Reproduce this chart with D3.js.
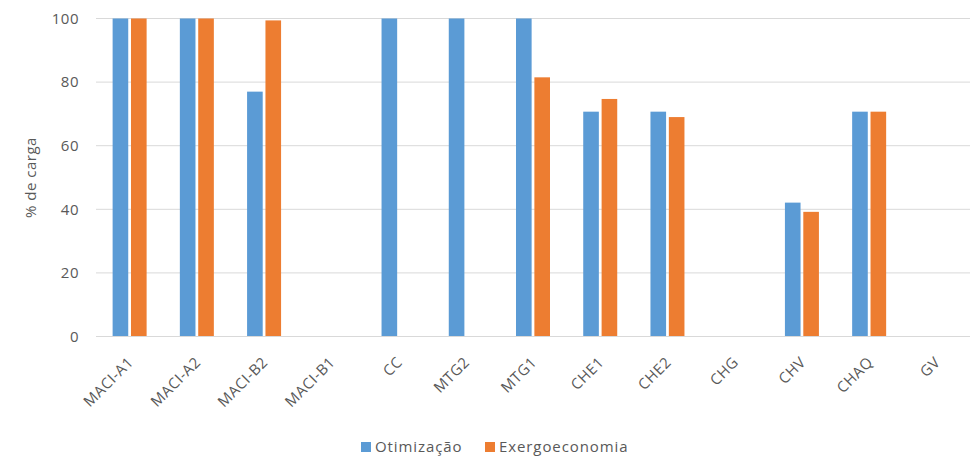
<!DOCTYPE html>
<html>
<head>
<meta charset="utf-8">
<script src="https://cdn.jsdelivr.net/npm/d3@7"></script>
<style>
  html, body { margin: 0; padding: 0; background: #fff; }
  svg text { font-family: "Open Sans", "Noto Sans", sans-serif; }
</style>
</head>
<body>
<svg id="chart" width="978" height="458"></svg>
<script>
// Load levels (% de carga) per equipment, for the two approaches
const categories = ["MACI-A1", "MACI-A2", "MACI-B2", "MACI-B1", "CC", "MTG2", "MTG1", "CHE1", "CHE2", "CHG", "CHV", "CHAQ", "GV"];
const otimizacao = [100, 100, 77, 0, 100, 100, 100, 70.7, 70.7, 0, 42.1, 70.7, 0];
const exergoeconomia = [100, 100, 99.4, 0, 0, 0, 81.5, 74.7, 69, 0, 39.2, 70.7, 0];
const seriesNames = ["Otimização", "Exergoeconomia"];
const seriesColors = ["#5B9BD5", "#ED7D31"];
const yTicks = [0, 20, 40, 60, 80, 100];

const svg = d3.select("#chart");
const margin = { left: 96, right: 8, top: 18.5, bottom: 121.5 };
const W = 978, H = 458;
const textColor = "#595959";
const fontSize = "15px";
const spacing = "0.5px";

const x = d3.scaleBand().domain(categories).range([margin.left, W - margin.right]).padding(0);
const y = d3.scaleLinear().domain([0, 100]).range([H - margin.bottom, margin.top]);

// horizontal gridlines
svg.append("g")
  .selectAll("line")
  .data(yTicks)
  .join("line")
  .attr("x1", margin.left).attr("x2", W - margin.right)
  .attr("y1", d => y(d)).attr("y2", d => y(d))
  .attr("stroke", "#d9d9d9").attr("stroke-width", 1);

// y axis tick labels
const yAxis = d3.axisLeft(y).tickValues(yTicks).tickSize(0).tickPadding(17);
svg.append("g")
  .attr("transform", `translate(${margin.left},0)`)
  .call(yAxis)
  .call(g => g.select(".domain").remove())
  .call(g => g.selectAll("text")
    .attr("fill", textColor)
    .style("font-size", fontSize)
    .style("letter-spacing", spacing));

// y axis title
svg.append("text")
  .attr("transform", `translate(36,${(y(0) + y(100)) / 2}) rotate(-90)`)
  .attr("text-anchor", "middle")
  .attr("fill", textColor)
  .style("font-size", fontSize)
  .style("letter-spacing", spacing)
  .text("% de carga");

// grouped bars
const sub = d3.scaleBand().domain([0, 1]).range([-17, 17]).paddingInner(0.15);
const rows = categories.map((c, i) => ({ c, v: [otimizacao[i], exergoeconomia[i]] }));
const groups = svg.append("g").selectAll("g")
  .data(rows)
  .join("g")
  .attr("transform", d => `translate(${x(d.c) + x.bandwidth() / 2},0)`);
groups.selectAll("rect")
  .data(d => d.v.map((v, k) => ({ v, k })).filter(e => e.v > 0))
  .join("rect")
  .attr("x", e => sub(e.k))
  .attr("width", sub.bandwidth())
  .attr("y", e => y(e.v))
  .attr("height", e => y(0) - y(e.v))
  .attr("fill", e => seriesColors[e.k]);

// x axis baseline
svg.append("line")
  .attr("x1", margin.left).attr("x2", W - margin.right)
  .attr("y1", y(0)).attr("y2", y(0))
  .attr("stroke", "#d9d9d9").attr("stroke-width", 1);

// category labels, rotated -45°
const labelG = svg.append("g");
labelG.selectAll("g")
  .data(categories)
  .join("g")
  .attr("transform", d => `translate(${x(d) + x.bandwidth() / 2 + 1},${y(0) + 23}) rotate(-45)`)
  .append("text")
  .attr("text-anchor", "end")
  .attr("dy", "0.35em")
  .attr("fill", textColor)
  .style("font-size", fontSize)
  .style("letter-spacing", spacing)
  .text(d => d);

// legend
const legend = svg.append("g").attr("transform", "translate(0,447)");
const legendX = [361, 485];
seriesNames.forEach((name, k) => {
  legend.append("rect")
    .attr("x", legendX[k]).attr("y", -5)
    .attr("width", 10).attr("height", 10)
    .attr("fill", seriesColors[k]);
  legend.append("text")
    .attr("x", legendX[k] + 14).attr("y", 0)
    .attr("dy", "0.35em")
    .attr("fill", textColor)
    .style("font-size", fontSize)
    .style("letter-spacing", "0.9px")
    .text(name);
});
</script>
</body>
</html>
